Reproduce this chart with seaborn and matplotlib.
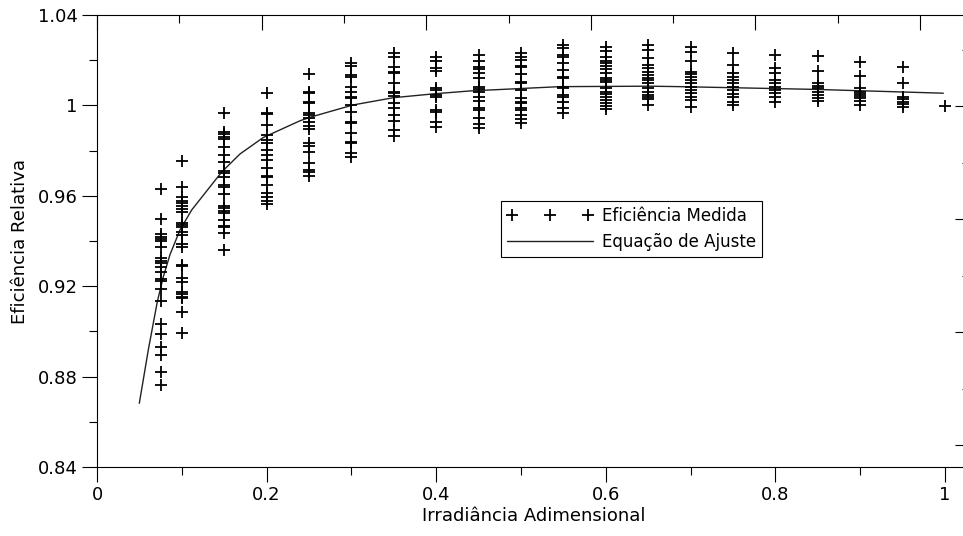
import numpy as np
import pandas as pd
import matplotlib
matplotlib.use("Agg")
import matplotlib.pyplot as plt
import seaborn as sns

# Eficiência relativa medida, uma lista por nível de irradiância
x_levels = [0.075, 0.1, 0.15, 0.2, 0.25, 0.3, 0.35, 0.4, 0.45, 0.5,
            0.55, 0.6, 0.65, 0.7, 0.75, 0.8, 0.85, 0.9, 0.95, 1.0]

eff_075 = [0.9630, 0.9496, 0.9431, 0.9419, 0.9409, 0.9400, 0.9375, 0.9323, 0.9313, 0.9301, 0.9284,
           0.9264, 0.9230, 0.9224, 0.9186, 0.9135, 0.9033, 0.8988, 0.8930, 0.8896, 0.8822, 0.8763]
eff_100 = [0.9756, 0.9640, 0.9596, 0.9578, 0.9567, 0.9555, 0.9540, 0.9530, 0.9481, 0.9471, 0.9461,
           0.9441, 0.9427, 0.9387, 0.9375, 0.9294, 0.9289, 0.9235, 0.9220, 0.9176, 0.9165, 0.9154,
           0.9146, 0.9087, 0.8994]
eff_150 = [0.9968, 0.9884, 0.9873, 0.9862, 0.9850, 0.9817, 0.9781, 0.9751, 0.9711, 0.9702, 0.9685,
           0.9648, 0.9640, 0.9608, 0.9555, 0.9545, 0.9534, 0.9525, 0.9493, 0.9466, 0.9461, 0.9434, 0.9360]
eff_200 = [1.0054, 0.9968, 0.9962, 0.9913, 0.9869, 0.9847, 0.9832, 0.9803, 0.9781, 0.9758, 0.9722,
           0.9688, 0.9682, 0.9648, 0.9611, 0.9593, 0.9578, 0.9564]
eff_250 = [1.0139, 1.0061, 1.0053, 1.0016, 1.0009, 0.9965, 0.9958, 0.9943, 0.9928, 0.9909, 0.9894,
           0.9832, 0.9820, 0.9795, 0.9744, 0.9714, 0.9707, 0.9688]
eff_300 = [1.0189, 1.0174, 1.0135, 1.0127, 1.0080, 1.0061, 1.0039, 1.0031, 1.0002, 0.9972, 0.9928,
           0.9921, 0.9876, 0.9839, 0.9832, 0.9788, 0.9773]
eff_350 = [1.0231, 1.0213, 1.0171, 1.0149, 1.0142, 1.0101, 1.0061, 1.0053, 1.0042, 1.0009, 0.9987,
           0.9958, 0.9931, 0.9891, 0.9865]
eff_400 = [1.0213, 1.0198, 1.0164, 1.0154, 1.0076, 1.0068, 1.0046, 1.0039, 0.9980, 0.9972, 0.9928, 0.9903]
eff_450 = [1.0223, 1.0198, 1.0169, 1.0160, 1.0142, 1.0123, 1.0080, 1.0071, 1.0061, 1.0039, 1.0021,
           0.9987, 0.9980, 0.9946, 0.9916, 0.9898]
eff_500 = [1.0233, 1.0213, 1.0201, 1.0174, 1.0169, 1.0139, 1.0105, 1.0098, 1.0068, 1.0031, 1.0016,
           1.0009, 0.9987, 0.9980, 0.9958, 0.9938, 0.9921]
eff_550 = [1.0267, 1.0253, 1.0223, 1.0216, 1.0186, 1.0157, 1.0127, 1.0120, 1.0083, 1.0076, 1.0046,
           1.0039, 1.0016, 0.9987, 0.9967]
eff_600 = [1.0260, 1.0242, 1.0216, 1.0198, 1.0186, 1.0174, 1.0160, 1.0142, 1.0120, 1.0112, 1.0105,
           1.0076, 1.0061, 1.0050, 1.0039, 1.0024, 1.0012, 0.9997, 0.9983]
eff_650 = [1.0267, 1.0245, 1.0208, 1.0179, 1.0164, 1.0149, 1.0135, 1.0120, 1.0112, 1.0098, 1.0076,
           1.0061, 1.0046, 1.0039, 1.0027, 1.0002]
eff_700 = [1.0260, 1.0238, 1.0198, 1.0149, 1.0139, 1.0127, 1.0112, 1.0098, 1.0083, 1.0068, 1.0053,
           1.0039, 1.0024, 0.9994]
eff_750 = [1.0233, 1.0179, 1.0142, 1.0127, 1.0112, 1.0098, 1.0083, 1.0068, 1.0050, 1.0039, 1.0016, 1.0002]
eff_800 = [1.0223, 1.0164, 1.0142, 1.0112, 1.0098, 1.0083, 1.0068, 1.0053, 1.0039, 1.0016]
eff_850 = [1.0219, 1.0154, 1.0098, 1.0086, 1.0076, 1.0061, 1.0046, 1.0031, 1.0021]
eff_900 = [1.0193, 1.0130, 1.0076, 1.0061, 1.0050, 1.0042, 1.0031, 1.0021, 1.0002]
eff_950 = [1.0169, 1.0101, 1.0039, 1.0027, 1.0016, 1.0006, 0.9992]
eff_1000 = [0.9997]

eff_columns = [eff_075, eff_100, eff_150, eff_200, eff_250, eff_300, eff_350, eff_400, eff_450, eff_500,
               eff_550, eff_600, eff_650, eff_700, eff_750, eff_800, eff_850, eff_900, eff_950, eff_1000]

# Curva da equação de ajuste
fit_x = [0.0499, 0.0605, 0.0711, 0.0782, 0.0861, 0.0979, 0.1116, 0.1333, 0.1470, 0.1686, 0.1961,
         0.2394, 0.2535, 0.3020, 0.3494, 0.3966, 0.4400, 0.5460, 0.6520, 0.6875, 0.8450, 0.9980]
fit_y = [0.8682, 0.8918, 0.9131, 0.9242, 0.9340, 0.9449, 0.9537, 0.9640, 0.9705, 0.9785, 0.9858,
         0.9932, 0.9950, 1.0002, 1.0034, 1.0051, 1.0064, 1.0083, 1.0085, 1.0083, 1.0071, 1.0054]

x_ticks = [0, 0.2, 0.4, 0.6, 0.8, 1.0]
x_tick_labels = ["0", "0.2", "0.4", "0.6", "0.8", "1"]
y_ticks = [0.84, 0.88, 0.92, 0.96, 1.00, 1.04]
y_tick_labels = ["0.84", "0.88", "0.92", "0.96", "1", "1.04"]

# monta a tabela longa para o seaborn
df = pd.DataFrame({
    "x": np.concatenate([[xv] * len(col) for xv, col in zip(x_levels, eff_columns)]),
    "y": np.concatenate(eff_columns),
})

sns.set_style("ticks")
plt.rcParams["font.family"] = ["DejaVu Sans"]
plt.rcParams["axes.linewidth"] = 0.8
plt.rcParams["text.color"] = "black"
plt.rcParams["axes.labelcolor"] = "black"
plt.rcParams["axes.edgecolor"] = "black"
plt.rcParams["xtick.color"] = "black"
plt.rcParams["ytick.color"] = "black"

fig = plt.figure(figsize=(9.63, 5.36), dpi=100)
ax = fig.add_axes([97 / 963, 69 / 536, 873 / 963, 452 / 536])

sns.scatterplot(data=df, x="x", y="y", marker="+", s=75, color="black",
                linewidth=1.3, ax=ax, label="Eficiência Medida", zorder=3)
sns.lineplot(x=fit_x, y=fit_y, color="#222222", linewidth=1.0, ax=ax,
             label="Equação de Ajuste", zorder=2)

ax.set_xlim(0, 873 / 848)
ax.set_ylim(0.84, 1.04)
ax.set_xticks(x_ticks)
ax.set_xticklabels(x_tick_labels)
ax.set_xticks(np.arange(0.1, 1.0, 0.2), minor=True)
ax.set_yticks(y_ticks)
ax.set_yticklabels(y_tick_labels)
ax.set_yticks(np.arange(0.86, 1.04, 0.04), minor=True)
ax.tick_params(which="major", direction="out", length=11, width=0.8, labelsize=13, pad=3)
ax.tick_params(which="minor", direction="out", length=6, width=0.8)
ax.set_xlabel("Irradiância Adimensional", fontsize=13, labelpad=2)
ax.set_ylabel("Eficiência Relativa", fontsize=13, labelpad=6)
for sp in ax.spines.values():
    sp.set_visible(True)
    sp.set_linewidth(0.8)

# eixo superior (sem rótulos), ticks para dentro
ax_top = ax.twiny()
ax_top.set_xlim(0, 873 / 164.6)
ax_top.set_xticks(np.arange(0, 6, 1))
ax_top.set_xticks(np.arange(0.5, 5.0, 1), minor=True)
ax_top.tick_params(which="major", direction="in", length=11, width=0.8, labeltop=False)
ax_top.tick_params(which="minor", direction="in", length=6, width=0.8)

# eixo direito (sem rótulos), ticks para dentro
ax_right = ax.twinx()
ax_right.set_ylim((445 - 467) / 113, (445 - 15) / 113)
ax_right.set_yticks([0, 1, 2, 3])
ax_right.set_yticks([0.5, 1.5, 2.5, 3.5], minor=True)
ax_right.tick_params(which="major", direction="in", length=11, width=0.8, labelright=False)
ax_right.tick_params(which="minor", direction="in", length=6, width=0.8)

for twin in (ax_top, ax_right):
    for sp in twin.spines.values():
        sp.set_visible(False)

handles, labels = ax.get_legend_handles_labels()
ax.get_legend().remove()
leg = ax_right.legend(handles, labels, loc="center", bbox_to_anchor=(0.612, 0.527),
                      scatterpoints=3, scatteryoffsets=[0.5], handlelength=5.2,
                      handletextpad=0.5, borderpad=0.35, fontsize=12, frameon=True,
                      fancybox=False, edgecolor="black", framealpha=1)
leg.get_frame().set_linewidth(0.8)

fig.savefig("out.png", dpi=100)
